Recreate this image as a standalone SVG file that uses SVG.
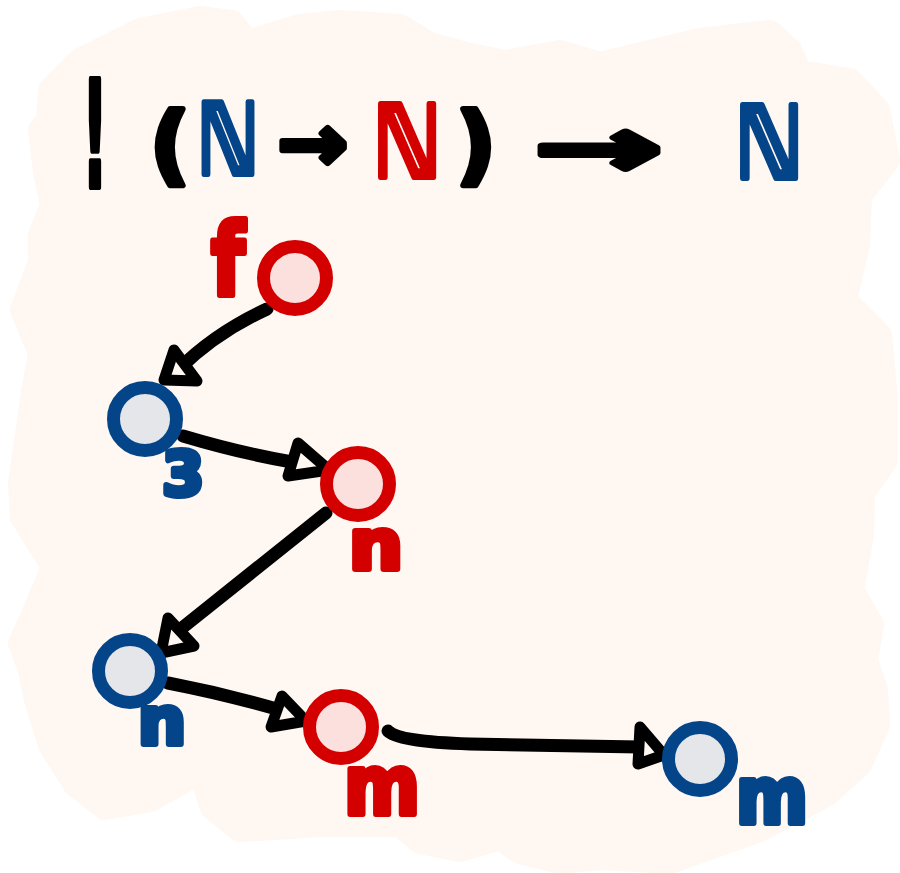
<svg xmlns="http://www.w3.org/2000/svg" width="900" height="873" viewBox="0 0 900 873">
  <style>
    .hand { font-family: "DejaVu Sans", "Noto Sans", sans-serif; font-weight: bold; stroke-linejoin: round; stroke-linecap: round; paint-order: stroke; }
    .ink { fill: #000; stroke: #000; stroke-width: 6; }
    .blue { fill: #04458a; stroke: #04458a; stroke-width: 6; }
    .red { fill: #d40000; stroke: #d40000; stroke-width: 6; }
    .node-red circle { fill: #fbe0dd; stroke: #d40000; stroke-width: 13; }
    .node-blue circle { fill: #e5e6ea; stroke: #04458a; stroke-width: 13; }
    .edge { fill: none; stroke: #000; stroke-width: 13; stroke-linecap: round; stroke-linejoin: round; }
    .head { fill: #fff7f2; stroke: #000; stroke-width: 11; stroke-linejoin: round; }
  </style>

  <!-- paper blob -->
  <path fill="#fff7f2" stroke="#fff7f2" stroke-width="24" stroke-linejoin="round"
    d="M 48,120 L 50,90 L 80,60 L 140,30 L 200,18 L 232,22 L 248,42 L 300,26 L 340,22 L 400,26 L 430,44 L 470,55 L 505,62 L 560,52 L 600,64 L 700,40 L 770,32 L 790,50 L 800,72 L 850,80 L 878,110 L 888,160 L 860,196 L 858,245 L 845,300 L 880,335 L 886,400 L 886,460 L 863,493 L 862,535 L 852,590 L 872,625 L 866,660 L 876,690 L 878,725 L 860,765 L 826,795 L 760,830 L 670,862 L 600,858 L 560,862 L 520,852 L 500,838 L 460,850 L 420,842 L 400,825 L 320,825 L 240,830 L 212,808 L 200,772 L 150,800 L 105,808 L 75,785 L 50,745 L 36,700 L 30,670 L 20,643 L 32,617 L 53,567 L 22,517 L 20,483 L 33,393 L 40,353 L 22,310 L 40,262 L 40,235 L 52,205 L 45,172 L 40,130 Z"/>

  <!-- type signature -->
  <g id="signature">
    <text class="hand ink" x="95" y="187" font-size="148" text-anchor="middle" textLength="26" lengthAdjust="spacingAndGlyphs">!</text>
    <text class="hand ink" x="170" y="174" font-size="86" text-anchor="middle">(</text>
    <text class="hand blue" x="228" y="174" font-size="98" text-anchor="middle" textLength="62" lengthAdjust="spacingAndGlyphs">ℕ</text>
    <text class="hand ink" x="313" y="170" font-size="78" text-anchor="middle" textLength="70" lengthAdjust="spacingAndGlyphs">→</text>
    <text class="hand red" x="407" y="177" font-size="100" text-anchor="middle" textLength="68" lengthAdjust="spacingAndGlyphs">ℕ</text>
    <text class="hand ink" x="476" y="174" font-size="86" text-anchor="middle">)</text>
    <text class="hand ink" x="598" y="176" font-size="82" text-anchor="middle" textLength="128" lengthAdjust="spacingAndGlyphs">→</text>
    <text class="hand blue" x="769" y="178" font-size="100" text-anchor="middle" textLength="68" lengthAdjust="spacingAndGlyphs">ℕ</text>
  </g>

  <!-- connectors -->
  <g id="connectors">
    <path class="edge" d="M 267,309 Q 215,333 178,370"/>
    <polygon class="head" points="164,380 174,350 197,381"/>

    <path class="edge" d="M 183,436 Q 240,453 292,462"/>
    <polygon class="head" points="288,476 298,443 329,470"/>

    <path class="edge" d="M 326,513 L 182,628"/>
    <polygon class="head" points="168,618 161,653 194,646"/>

    <path class="edge" d="M 168,683 Q 225,694 280,710"/>
    <polygon class="head" points="282,696 271,727 306,721"/>

    <path class="edge" d="M 388,731 Q 398,742 470,744 L 640,747"/>
    <polygon class="head" points="640,727 638,764 664,755"/>
  </g>

  <!-- nodes -->
  <g id="node-f" class="node-red">
    <circle cx="295" cy="278" r="31.5"/>
    <text class="hand red" x="228" y="295" font-size="100" text-anchor="middle" textLength="34" lengthAdjust="spacingAndGlyphs" stroke-width="8">f</text>
  </g>
  <g id="node-3" class="node-blue">
    <circle cx="145" cy="419" r="31.5"/>
    <text class="hand blue" x="183" y="495" font-size="60" text-anchor="middle">3</text>
  </g>
  <g id="node-n-red" class="node-red">
    <circle cx="358" cy="484" r="31.5"/>
    <text class="hand red" x="376" y="569" font-size="70" text-anchor="middle" textLength="54" lengthAdjust="spacingAndGlyphs">n</text>
  </g>
  <g id="node-n-blue" class="node-blue">
    <circle cx="130" cy="671" r="31.5"/>
    <text class="hand blue" x="162" y="744" font-size="66" text-anchor="middle" textLength="48" lengthAdjust="spacingAndGlyphs">n</text>
  </g>
  <g id="node-m-red" class="node-red">
    <circle cx="341" cy="727" r="31.5"/>
    <text class="hand red" x="382" y="814" font-size="82" text-anchor="middle" textLength="76" lengthAdjust="spacingAndGlyphs">m</text>
  </g>
  <g id="node-m-blue" class="node-blue">
    <circle cx="700" cy="759" r="31.5"/>
    <text class="hand blue" x="772" y="823" font-size="78" text-anchor="middle" textLength="72" lengthAdjust="spacingAndGlyphs">m</text>
  </g>
</svg>
